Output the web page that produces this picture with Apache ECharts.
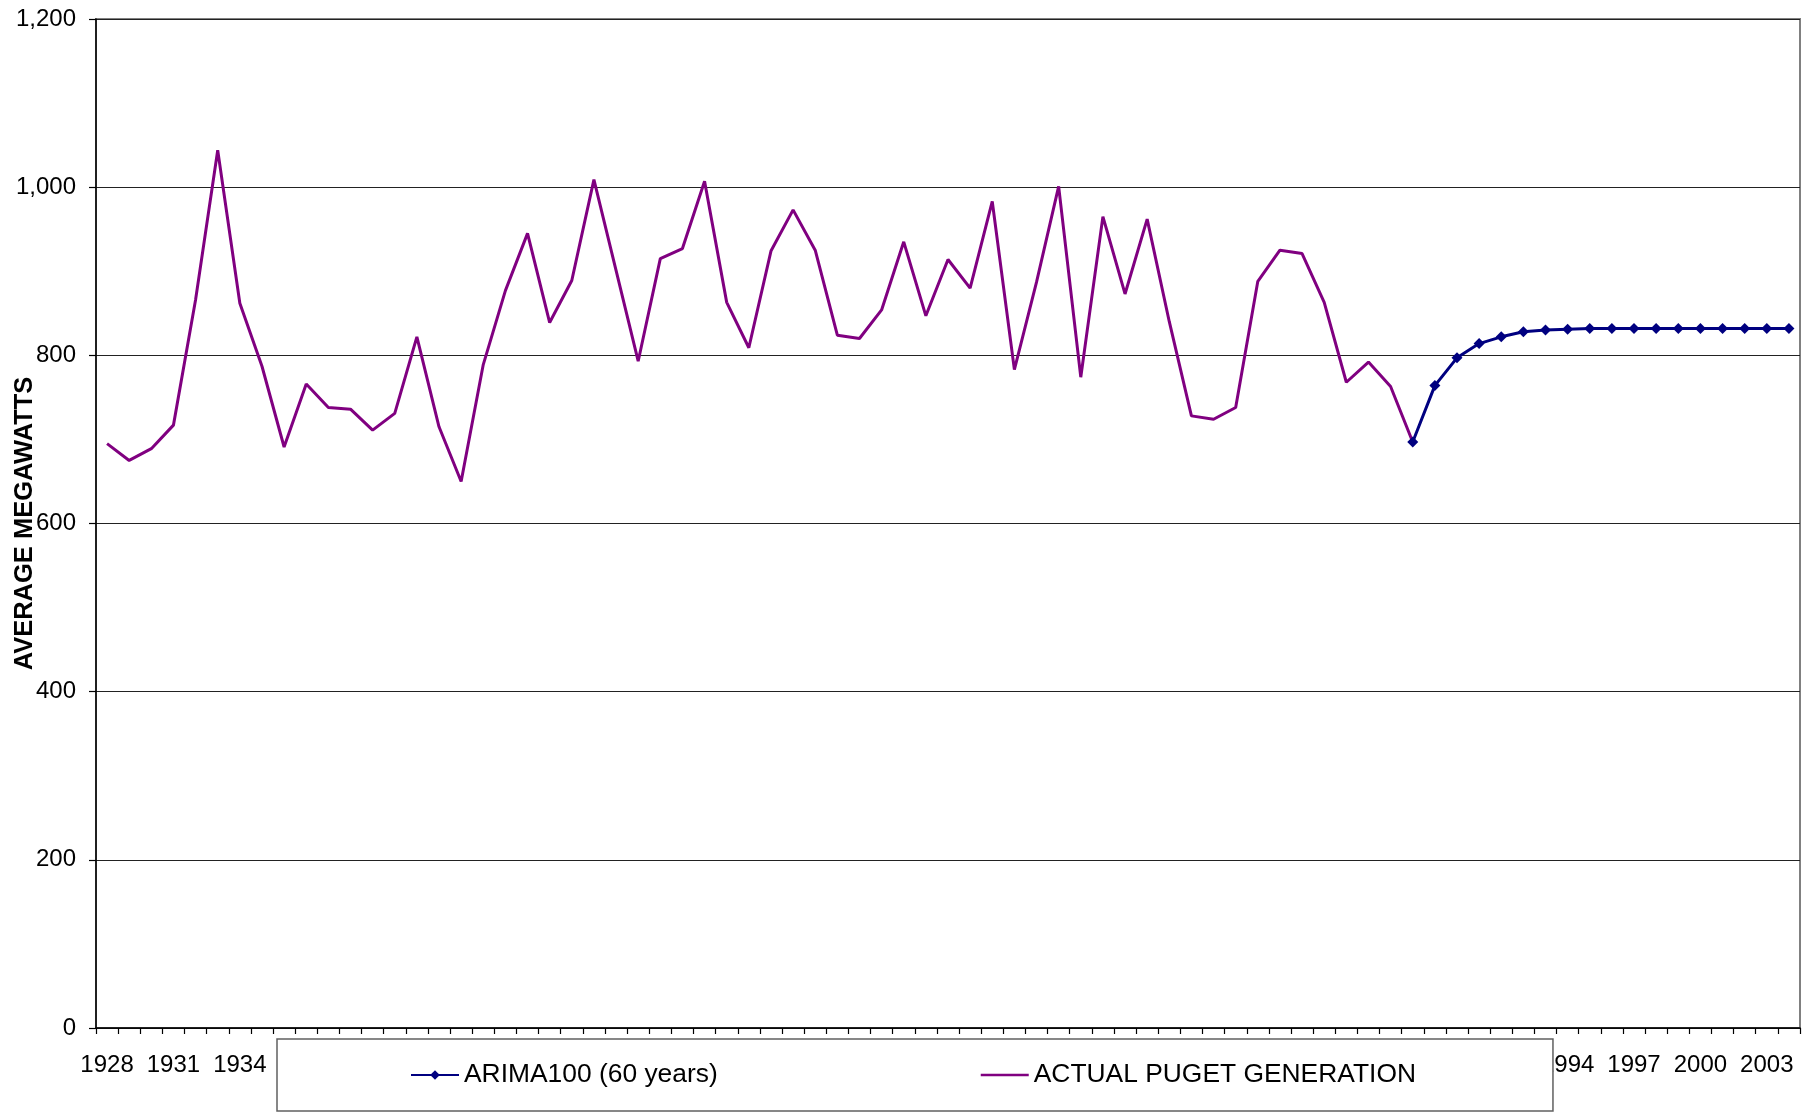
<!DOCTYPE html>
<html>
<head>
<meta charset="utf-8">
<script src="https://cdn.jsdelivr.net/npm/echarts@6/dist/echarts.min.js"></script>
<style>
html,body{margin:0;padding:0;background:#fff;}
#chart{width:1811px;height:1112px;}
</style>
</head>
<body>
<div id="chart"></div>
<script>
var years = ['1928','1929','1930','1931','1932','1933','1934','1935','1936','1937',
 '1938','1939','1940','1941','1942','1943','1944','1945','1946','1947',
 '1948','1949','1950','1951','1952','1953','1954','1955','1956','1957',
 '1958','1959','1960','1961','1962','1963','1964','1965','1966','1967',
 '1968','1969','1970','1971','1972','1973','1974','1975','1976','1977',
 '1978','1979','1980','1981','1982','1983','1984','1985','1986','1987',
 '1988','1989','1990','1991','1992','1993','1994','1995','1996','1997',
 '1998','1999','2000','2001','2002','2003','2004'];

// ACTUAL PUGET GENERATION, 1928-1987
var actualValues = [695,675,689,717,866,1044,862,787,691,766,
 738,736,711,731,822,715,650,789,877,945,
 839,889,1009,901,793,915,927,1007,863,809,
 924,973,925,824,820,854,935,847,914,880,
 983,783,887,1001,774,965,873,962,840,728,
 724,738,888,925,921,863,768,792,763,697];

// ARIMA100 (60 years), 1987-2004
var arimaStartYear = '1987';
var arimaValues = [697,764,797,814,822,828,830,831,832,832,
 832,832,832,832,832,832,832,832];

var yTicks = [0,200,400,600,800,1000,1200];

var arimaStart = years.indexOf(arimaStartYear);
var actualSeries = years.map(function(y,i){ return i < actualValues.length ? actualValues[i] : null; });
var arimaSeries = years.map(function(y,i){ return i >= arimaStart ? arimaValues[i-arimaStart] : null; });

var chart = echarts.init(document.getElementById('chart'), null, {renderer:'canvas'});
var font = 'Liberation Sans, Arial, sans-serif';
chart.setOption({
  animation:false,
  backgroundColor:'#fff',
  textStyle:{fontFamily:font},
  grid:{left:96,right:11,top:19,bottom:84,outerBoundsMode:'none',containLabel:false,
        show:true,borderColor:'#808080',borderWidth:2,backgroundColor:'transparent'},
  legend:{
    left:277, top:1039,
    padding:[23,137,23,133],
    itemGap:263, itemWidth:48, itemHeight:12,
    backgroundColor:'#fff', borderColor:'#606060', borderWidth:1.5,
    textStyle:{fontSize:26.4,color:'#000',fontFamily:font},
    data:[
      {name:'ARIMA100 (60 years)'},
      {name:'ACTUAL PUGET GENERATION', icon:'path://M0,0L48,0L48,2.5L0,2.5Z'}
    ]
  },
  xAxis:{
    type:'category', data:years, boundaryGap:true,
    axisLine:{lineStyle:{color:'#000',width:1.5}},
    axisTick:{show:true,interval:0,length:6,lineStyle:{color:'#000',width:1.2}},
    axisLabel:{interval:2,fontSize:24,color:'#000',margin:25,fontFamily:font},
    splitLine:{show:false}
  },
  yAxis:{
    type:'value', min:yTicks[0], max:yTicks[yTicks.length-1], interval:200,
    name:'AVERAGE MEGAWATTS', nameLocation:'middle', nameGap:58, nameMoveOverlap:false,
    nameTextStyle:{fontSize:25.5,fontWeight:'bold',color:'#000',fontFamily:font},
    axisLine:{show:true,lineStyle:{color:'#000',width:1.5}},
    axisTick:{show:true,length:7,lineStyle:{color:'#000',width:1.2}},
    axisLabel:{fontSize:24,color:'#000',margin:20,fontFamily:font,
      formatter:function(v){return v.toLocaleString('en-US');}},
    splitLine:{show:true,lineStyle:{color:'#222',width:1}}
  },
  series:[
    {name:'ARIMA100 (60 years)',type:'line',data:arimaSeries,z:5,
     symbol:'diamond',symbolSize:11,showSymbol:true,connectNulls:false,
     lineStyle:{color:'#000080',width:3},itemStyle:{color:'#000080'}},
    {name:'ACTUAL PUGET GENERATION',type:'line',data:actualSeries,z:3,
     symbol:'none',showSymbol:false,connectNulls:false,
     lineStyle:{color:'#800080',width:3},itemStyle:{color:'#800080'}}
  ]
});
</script>
</body>
</html>
